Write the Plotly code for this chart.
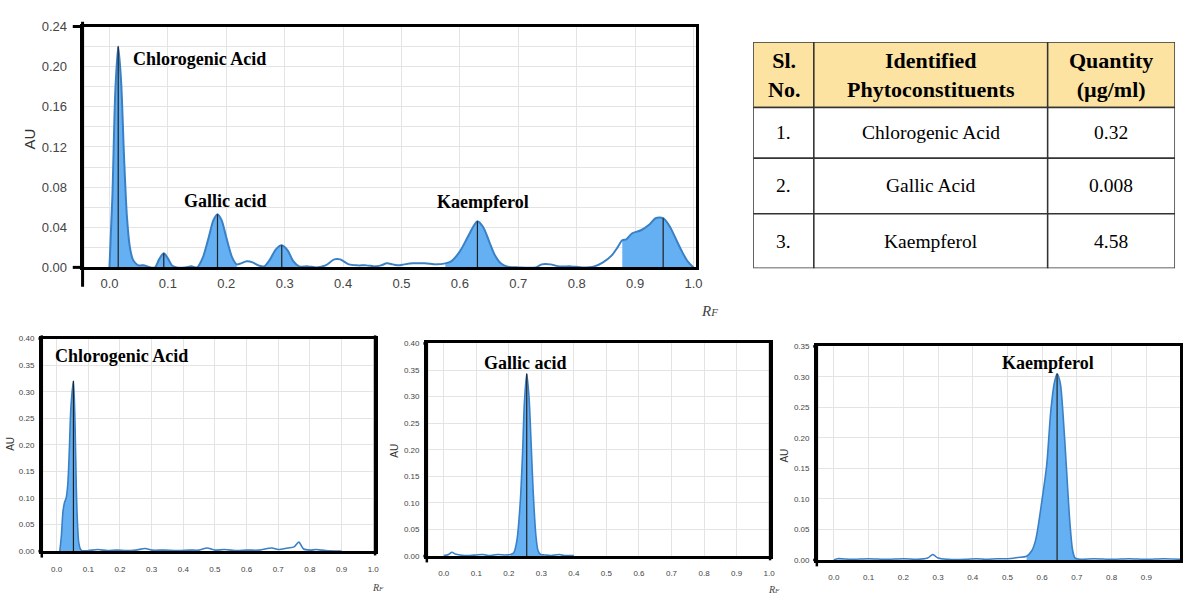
import numpy as np
import plotly.graph_objects as go

# ---------------- DATA ----------------
# Sample densitogram (Rf vs AU)
sample_rf = [0.000, 0.005, 0.010, 0.015, 0.020, 0.025, 0.030, 0.035, 0.040, 0.045,
             0.050, 0.055, 0.060, 0.065, 0.070, 0.078, 0.085, 0.093, 0.100, 0.107,
             0.115, 0.130, 0.140, 0.150, 0.160, 0.170, 0.178, 0.185, 0.192, 0.200,
             0.210, 0.218, 0.225, 0.235, 0.245, 0.255, 0.265, 0.275, 0.285, 0.295,
             0.305, 0.315, 0.325, 0.340, 0.355, 0.370, 0.385, 0.395, 0.410, 0.425,
             0.440, 0.455, 0.465, 0.475, 0.485, 0.495, 0.505, 0.520, 0.540, 0.560,
             0.575, 0.585, 0.600, 0.615, 0.630, 0.640, 0.650, 0.660, 0.670, 0.680,
             0.700, 0.730, 0.740, 0.755, 0.770, 0.790, 0.810, 0.830, 0.845, 0.860,
             0.870, 0.878, 0.885, 0.895, 0.910, 0.925, 0.935, 0.948, 0.960, 0.970,
             0.980, 0.990, 1.000]
sample_au = [0.000, 0.070, 0.175, 0.220, 0.185, 0.110, 0.050, 0.020, 0.008, 0.004,
             0.002, 0.002, 0.002, 0.001, 0.000, 0.000, 0.008, 0.014, 0.009, 0.002,
             0.000, 0.000, 0.001, 0.000, 0.010, 0.030, 0.047, 0.053, 0.047, 0.030,
             0.010, 0.003, 0.004, 0.006, 0.005, 0.002, 0.001, 0.008, 0.018, 0.022,
             0.017, 0.006, 0.001, 0.001, 0.000, 0.002, 0.008, 0.008, 0.003, 0.002,
             0.002, 0.001, 0.002, 0.004, 0.003, 0.002, 0.003, 0.004, 0.004, 0.003,
             0.004, 0.006, 0.016, 0.032, 0.046, 0.040, 0.026, 0.012, 0.004, 0.001,
             0.000, 0.000, 0.003, 0.003, 0.001, 0.001, 0.000, 0.001, 0.005, 0.012,
             0.020, 0.027, 0.028, 0.034, 0.037, 0.043, 0.049, 0.049, 0.040, 0.028,
             0.016, 0.006, 0.000]
sample_windows = [(0.0, 0.07), (0.078, 0.115), (0.15, 0.218), (0.265, 0.325),
                  (0.575, 0.68), (0.878, 1.0)]
sample_peaks = [0.015, 0.093, 0.185, 0.295, 0.630, 0.948]

# Chlorogenic acid standard
chl_rf = [0.010, 0.015, 0.020, 0.025, 0.030, 0.035, 0.040, 0.045, 0.053, 0.058,
          0.062, 0.066, 0.070, 0.075, 0.080, 0.100, 0.130, 0.160, 0.190, 0.220,
          0.250, 0.280, 0.300, 0.340, 0.380, 0.420, 0.450, 0.475, 0.500, 0.530,
          0.570, 0.600, 0.640, 0.680, 0.700, 0.730, 0.750, 0.765, 0.780, 0.800,
          0.820, 0.850, 0.900]
chl_au = [0.000, 0.030, 0.075, 0.092, 0.100, 0.125, 0.190, 0.270, 0.320, 0.240,
          0.120, 0.050, 0.015, 0.004, 0.001, 0.001, 0.003, 0.001, 0.002, 0.001,
          0.002, 0.005, 0.002, 0.002, 0.001, 0.002, 0.002, 0.006, 0.002, 0.003,
          0.001, 0.002, 0.002, 0.006, 0.003, 0.006, 0.008, 0.017, 0.004, 0.002,
          0.003, 0.001, 0.000]
chl_windows = [(0.01, 0.08)]
chl_peaks = [0.053]

# Gallic acid standard
gal_rf = [0.000, 0.015, 0.025, 0.035, 0.050, 0.080, 0.100, 0.120, 0.140, 0.165,
          0.190, 0.205, 0.215, 0.225, 0.235, 0.242, 0.248, 0.255, 0.262, 0.268,
          0.275, 0.283, 0.290, 0.298, 0.310, 0.330, 0.355, 0.370, 0.400]
gal_au = [0.001, 0.003, 0.007, 0.004, 0.002, 0.001, 0.002, 0.003, 0.001, 0.003,
          0.002, 0.003, 0.006, 0.030, 0.100, 0.190, 0.290, 0.343, 0.300, 0.220,
          0.120, 0.040, 0.010, 0.003, 0.002, 0.001, 0.003, 0.001, 0.001]
gal_windows = [(0.205, 0.298)]
gal_peaks = [0.255]

# Kaempferol standard
kae_rf = [0.000, 0.010, 0.050, 0.100, 0.150, 0.200, 0.240, 0.270, 0.285, 0.300,
          0.330, 0.380, 0.410, 0.440, 0.470, 0.500, 0.530, 0.555, 0.570, 0.580,
          0.587, 0.600, 0.613, 0.625, 0.635, 0.643, 0.652, 0.660, 0.670, 0.680,
          0.688, 0.695, 0.710, 0.750, 0.800, 0.850, 0.900, 0.950, 1.000]
kae_au = [0.000, 0.002, 0.001, 0.002, 0.001, 0.002, 0.001, 0.003, 0.009, 0.003,
          0.001, 0.001, 0.002, 0.001, 0.002, 0.002, 0.004, 0.006, 0.015, 0.030,
          0.050, 0.100, 0.155, 0.245, 0.290, 0.305, 0.290, 0.240, 0.150, 0.060,
          0.015, 0.003, 0.001, 0.002, 0.001, 0.002, 0.001, 0.002, 0.001]
kae_windows = [(0.555, 0.71)]
kae_peaks = [0.643]

# Labels
sample_labels = [("Chlorogenic Acid", 0.0375, 0.208, "left"),
                 ("Gallic acid", 0.198, 0.066, "center"),
                 ("Kaempferol", 0.64, 0.065, "center")]
std_labels = ["Chlorogenic Acid", "Gallic acid", "Kaempferol"]
std_label_pos = [(-0.013, 0.367, "left"), (0.251, 0.363, "center"), (0.616, 0.323, "center")]

# Table
table_header = ["Sl.<br>No.", "Identified<br>Phytoconstituents", "Quantity<br>(µg/ml)"]
table_sl = ["1.", "2.", "3."]
table_names = ["Chlorogenic Acid", "Gallic Acid", "Kaempferol"]
table_qty = ["0.32", "0.008", "4.58"]

# ---------------- STYLE ----------------
W, H = 1186, 605
FILL = "rgb(100,176,242)"
LINE = "rgb(58,128,198)"
GRID = "#e4e4e4"
SERIF = "Liberation Serif, Times New Roman, serif"
SANS = "Liberation Sans, Arial, sans-serif"
NARROW = "Liberation Sans Narrow, Arial Narrow, Liberation Sans, Arial, sans-serif"

def px_dom(a, b, total):
    return [a / total, b / total]

def py_dom(top, bottom):
    return [1 - bottom / H, 1 - top / H]

fig = go.Figure()

def add_chrom(rf, au, windows, peaks, xa, ya, lw=2.0):
    rf = np.array(rf)
    au = np.array(au)
    for a, b in windows:
        m = (rf >= a - 1e-9) & (rf <= b + 1e-9)
        fig.add_trace(go.Scatter(x=rf[m], y=au[m], mode="lines", fill="tozeroy",
                                 fillcolor=FILL, line=dict(width=0, shape="spline", smoothing=0.8),
                                 xaxis=xa, yaxis=ya, showlegend=False, hoverinfo="skip"))
    fig.add_trace(go.Scatter(x=rf, y=au, mode="lines",
                             line=dict(color=LINE, width=lw, shape="spline", smoothing=0.8),
                             xaxis=xa, yaxis=ya, showlegend=False))
    for p in peaks:
        i = int(np.argmin(np.abs(rf - p)))
        fig.add_trace(go.Scatter(x=[rf[i], rf[i]], y=[0, au[i]], mode="lines",
                                 line=dict(color="#222", width=1.2),
                                 xaxis=xa, yaxis=ya, showlegend=False, hoverinfo="skip"))

add_chrom(sample_rf, sample_au, sample_windows, sample_peaks, "x", "y", 2.0)
add_chrom(chl_rf, chl_au, chl_windows, chl_peaks, "x2", "y2", 1.6)
add_chrom(gal_rf, gal_au, gal_windows, gal_peaks, "x3", "y3", 1.6)
add_chrom(kae_rf, kae_au, kae_windows, kae_peaks, "x4", "y4", 1.6)

def xaxis_cfg(dom, rng, fsize, family, lw, standoff):
    return dict(domain=dom, range=rng, tick0=0, dtick=0.1, tickformat=".1f",
                showgrid=True, gridcolor=GRID, gridwidth=1.3, zeroline=False,
                showline=True, linecolor="black", linewidth=lw, mirror=True,
                ticks="", ticklabelstandoff=standoff,
                tickfont=dict(size=fsize, family=family, color="#444"), fixedrange=True)

def yaxis_cfg(dom, rng, dtick, fmt, fsize, family, lw, anchor, standoff, minor=None):
    d = dict(domain=dom, range=rng, tick0=0, dtick=dtick, tickformat=fmt,
             showgrid=True, gridcolor=GRID, gridwidth=1.3, zeroline=False,
             showline=True, linecolor="black", linewidth=lw, mirror=True,
             ticks="", ticklabelstandoff=standoff, anchor=anchor,
             tickfont=dict(size=fsize, family=family, color="#444"), fixedrange=True)
    if minor:
        d["minor"] = minor
    return d

main_xd = px_dom(83, 700, W)
main_yd = py_dom(20, 267)
c2_xd, c2_yd = px_dom(42, 377, W), py_dom(340, 558)
c3_xd, c3_yd = px_dom(429, 774, W), py_dom(345, 563)
c4_xd, c4_yd = px_dom(821, 1186, W), py_dom(348, 567)

fig.update_layout(
    width=W, height=H, margin=dict(l=0, r=0, t=0, b=0),
    paper_bgcolor="white", plot_bgcolor="white", showlegend=False,
    xaxis=dict(**xaxis_cfg(main_xd, [-0.046, 1.005], 13, SANS, 3, 2), anchor="y"),
    yaxis=yaxis_cfg(main_yd, [0, 0.24], 0.04, ".2f", 13, SANS, 3, "x", 10,
                    minor=dict(dtick=0.02, showgrid=True, gridcolor=GRID, gridwidth=1.3)),
    xaxis2=dict(**xaxis_cfg(c2_xd, [-0.047, 1.006], 8, NARROW, 2.5, 8), anchor="y2"),
    yaxis2=yaxis_cfg(c2_yd, [0, 0.40], 0.05, ".2f", 8, NARROW, 2.5, "x2", 3),
    xaxis3=dict(**xaxis_cfg(c3_xd, [-0.052, 1.003], 8, NARROW, 2.5, 8), anchor="y3"),
    yaxis3=yaxis_cfg(c3_yd, [0, 0.40], 0.05, ".2f", 8, NARROW, 2.5, "x3", 3),
    xaxis4=dict(**xaxis_cfg(c4_xd, [-0.049, 0.997], 8, NARROW, 2.5, 8), anchor="y4"),
    yaxis4=yaxis_cfg(c4_yd, [0, 0.35], 0.05, ".2f", 8, NARROW, 2.5, "x4", 3),
)

# ---------- frame extensions ----------
shapes = []
def seg(xr, yr, x0, y0, x1, y1, w):
    shapes.append(dict(type="line", xref=xr, yref=yr, x0=x0, y0=y0, x1=x1, y1=y1,
                       line=dict(color="black", width=w), layer="above"))

seg("x domain", "y domain", 0, -0.08, 0, 1.02, 3)
seg("x domain", "y domain", -0.016, 1, 0, 1, 3)
seg("x domain", "y domain", -0.016, 0, 0, 0, 3)
for xa, ya in [("x2", "y2"), ("x3", "y3"), ("x4", "y4")]:
    seg(xa + " domain", ya + " domain", 0, -0.03, 0, 1.015, 2.5)
    seg(xa + " domain", ya + " domain", -0.01, 1, 0, 1, 2.5)
    seg(xa + " domain", ya + " domain", -0.01, 0, 0, 0, 2.5)
seg("x3 domain", "y3 domain", 1, -0.02, 1, 1.015, 2.5)
seg("x2 domain", "y2 domain", 1, -0.02, 1, 1.015, 2.5)

# ---------- annotations ----------
ann = []
for text, x, y, anc in sample_labels:
    ann.append(dict(text="<b>%s</b>" % text, x=x, y=y, xref="x", yref="y",
                    xanchor=anc, yanchor="middle", showarrow=False,
                    font=dict(family=SERIF, size=18, color="black")))
for k, (text, (x, y, anc)) in enumerate(zip(std_labels, std_label_pos)):
    ann.append(dict(text="<b>%s</b>" % text, x=x, y=y, xref="x%d" % (k + 2), yref="y%d" % (k + 2),
                    xanchor=anc, yanchor="middle", showarrow=False,
                    font=dict(family=SERIF, size=18, color="black")))

def au_label(x, y, size):
    ann.append(dict(text="AU", x=x / W, y=1 - y / H, xref="paper", yref="paper",
                    textangle=-90, showarrow=False, xanchor="center", yanchor="middle",
                    font=dict(family=SANS, size=size, color="#333")))
au_label(30, 135, 15)
au_label(11, 448, 10)
au_label(397, 455, 10)
au_label(789, 460, 10)

def rf_label(x, y, size):
    ann.append(dict(text="<i>R<span style='font-size:%dpx'>F</span></i>" % int(size * 0.75),
                    x=x / W, y=1 - y / H, xref="paper", yref="paper", showarrow=False,
                    xanchor="center", yanchor="middle",
                    font=dict(family=SERIF, size=size, color="#444")))
rf_label(713, 312, 15)
rf_label(380, 595, 10)
rf_label(778, 597, 10)

# ---------- table (on its own hidden axes) ----------
col_w = [61, 235, 128]
row_h = [67, 52, 57, 56]
tx_dom = px_dom(757, 1181, W)
ty_dom = py_dom(36, 268)
fig.update_layout(
    xaxis5=dict(domain=tx_dom, range=[0, sum(col_w)], visible=False, anchor="y5", fixedrange=True),
    yaxis5=dict(domain=ty_dom, range=[sum(row_h), 0], visible=False, anchor="x5", fixedrange=True),
)
rows = [table_header] + [list(r) for r in zip(table_sl, table_names, table_qty)]
col_edges = np.concatenate([[0], np.cumsum(col_w)])
row_edges = np.concatenate([[0], np.cumsum(row_h)])
for r, row in enumerate(rows):
    for c, txt in enumerate(row):
        shapes.append(dict(type="rect", xref="x5", yref="y5",
                           x0=col_edges[c], x1=col_edges[c + 1],
                           y0=row_edges[r], y1=row_edges[r + 1],
                           fillcolor="#FCE3A2" if r == 0 else "white",
                           line=dict(color="#333", width=1.5), layer="below"))
        ann.append(dict(text=("<b>%s</b>" % txt) if r == 0 else txt,
                        x=(col_edges[c] + col_edges[c + 1]) / 2,
                        y=(row_edges[r] + row_edges[r + 1]) / 2,
                        xref="x5", yref="y5", showarrow=False,
                        xanchor="center", yanchor="middle",
                        font=dict(family=SERIF, size=22 if r == 0 else 19.5, color="black")))

fig.update_layout(shapes=shapes, annotations=ann)
fig.write_html("out.html", config={"displayModeBar": False},
               post_script="document.body.style.margin='0';document.body.style.overflow='hidden';")
